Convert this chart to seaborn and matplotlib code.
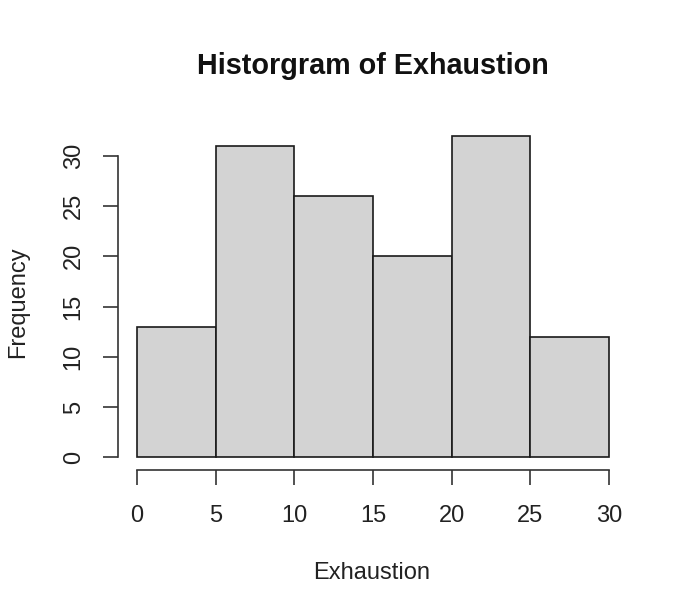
import matplotlib
matplotlib.use("Agg")
import matplotlib.pyplot as plt
import seaborn as sns
import numpy as np

bin_edges = [0, 5, 10, 15, 20, 25, 30]
counts = [13, 31, 26, 20, 32, 12]
x_ticks = [0, 5, 10, 15, 20, 25, 30]
y_ticks = [0, 5, 10, 15, 20, 25, 30]
title = "Historgram of Exhaustion"
xlabel = "Exhaustion"
ylabel = "Frequency"

sns.set_style("white")
plt.rcParams['font.family'] = ['Liberation Sans', 'DejaVu Sans']

fig = plt.figure(figsize=(6.83, 5.99), dpi=100)
ax = fig.add_axes([118/683, (599-470)/599, (628-118)/683, (470-123)/599])

centers = [(bin_edges[i] + bin_edges[i+1]) / 2 for i in range(len(counts))]
sns.histplot(x=centers, weights=counts, bins=bin_edges, ax=ax,
             color="#d3d3d3", edgecolor="#1a1a1a", linewidth=1.2, alpha=1)

ax.set_xlim(-1.2, 31.2)
ax.set_ylim(-1.28, 33.28)
ax.set_xticks(x_ticks)
ax.set_yticks(y_ticks)
ax.set_xticklabels([str(t) for t in x_ticks], fontsize=17, color="#222222")
ax.set_yticklabels([str(t) for t in y_ticks], fontsize=17, color="#222222",
                   rotation=90, va="center")
ax.tick_params(axis='both', direction='out', length=11, width=1.2, color="#333333",
               bottom=True, left=True)
ax.tick_params(axis='x', pad=14)
ax.tick_params(axis='y', pad=13)
for s in ['top', 'right']:
    ax.spines[s].set_visible(False)
ax.spines['left'].set_bounds(0, 30)
ax.spines['bottom'].set_bounds(0, 30)
for s in ['left', 'bottom']:
    ax.spines[s].set_linewidth(1.2)
    ax.spines[s].set_color("#333333")

ax.set_xlabel(xlabel, fontsize=17, color="#222222")
ax.set_ylabel(ylabel, fontsize=17, color="#222222")
ax.xaxis.set_label_coords((372-118)/510, -(562-470)/347)
ax.yaxis.set_label_coords(-(118-29)/510, (470-302)/347)
fig.text(373/683, 1-66/599, title, fontsize=20.7, fontweight='bold',
         ha='center', va='center', color="#111111")

fig.savefig("out.png", dpi=100)
